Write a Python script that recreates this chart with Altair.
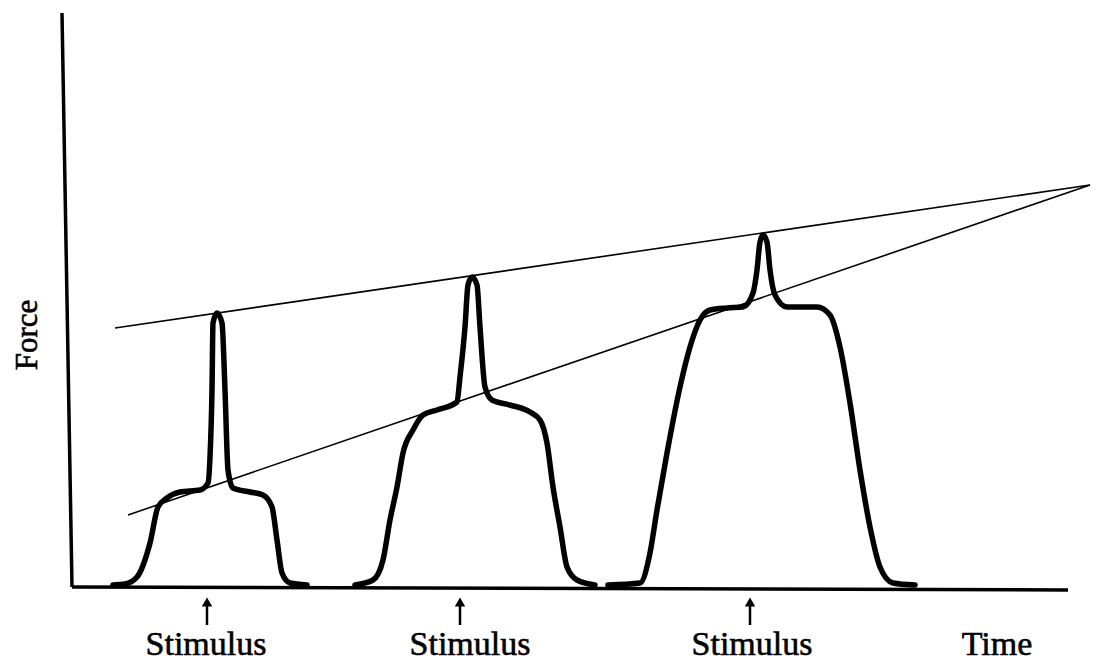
import altair as alt
import pandas as pd

# Twitch curves (time, force)
c1_time = [41, 53, 65, 78, 86, 95, 108, 128, 136, 138, 140, 141, 145, 150, 153, 156, 161, 178, 191, 200, 205, 210, 218, 235]
c1_force = [0, 1, 8, 42, 78, 87, 93, 95, 102, 128, 195, 262, 272, 262, 195, 115, 97, 93, 90, 78, 45, 12, 2, 0]

c2_time = [283, 301, 311, 318, 325, 331, 341, 351, 365, 385, 388, 393, 396, 400, 405, 408, 413, 420, 438, 458, 468, 475, 481, 488, 495, 505, 523]
c2_force = [0, 5, 25, 65, 98, 132, 155, 170, 175, 183, 208, 258, 300, 308, 300, 258, 198, 185, 180, 173, 165, 142, 98, 58, 18, 5, 0]

c3_time = [536, 568, 578, 585, 595, 608, 618, 628, 638, 655, 671, 681, 685, 688, 691, 695, 698, 703, 715, 745, 758, 768, 778, 788, 798, 808, 821, 843]
c3_force = [0, 2, 32, 75, 132, 198, 238, 265, 275, 277, 278, 292, 315, 343, 350, 343, 315, 290, 278, 278, 270, 238, 182, 115, 58, 18, 2, 0]

# Converging straight lines
upper_time = [43, 1018]
upper_force = [257, 400]
lower_time = [56, 1018]
lower_force = [70, 400]

# Axes lines
yaxis_time = [-10, 0]
yaxis_force = [572, -2]
xaxis_time = [0, 996]
xaxis_force = [-2, -5]

# Stimulus markers and labels
arrow_time = [135, 388, 678]
label_time = [134, 398, 680]
label_text = ["Stimulus", "Stimulus", "Stimulus"]

X = alt.Scale(domain=[-64, 1025], nice=False, zero=False)
Y = alt.Scale(domain=[-77, 577], nice=False, zero=False)

curves = pd.DataFrame({
    "time": c1_time + c2_time + c3_time,
    "force": c1_force + c2_force + c3_force,
    "curve": ["c1"] * len(c1_time) + ["c2"] * len(c2_time) + ["c3"] * len(c3_time),
})
straight = pd.DataFrame({
    "time": upper_time + lower_time,
    "force": upper_force + lower_force,
    "line": ["upper", "upper", "lower", "lower"],
})
axes = pd.DataFrame({
    "time": yaxis_time + xaxis_time,
    "force": yaxis_force + xaxis_force,
    "line": ["y", "y", "x", "x"],
})
arrows = pd.DataFrame({"time": arrow_time, "top": [-17] * 3, "bottom": [-40] * 3})
labels = pd.DataFrame({"time": label_time, "force": [-70] * 3, "text": label_text})
extra = pd.DataFrame({
    "time": [925, -44],
    "force": [-70, 250],
    "text": ["Time", "Force"],
})

xe = lambda: alt.X("time:Q", scale=X, axis=None)
ye = lambda: alt.Y("force:Q", scale=Y, axis=None)

curve_layer = alt.Chart(curves).mark_line(
    color="black", strokeWidth=5.5, interpolate="monotone", strokeJoin="round", strokeCap="round"
).encode(x=xe(), y=ye(), detail="curve:N", order="time:Q")

straight_layer = alt.Chart(straight).mark_line(color="black", strokeWidth=1.6).encode(
    x=xe(), y=ye(), detail="line:N"
)

axes_layer = alt.Chart(axes).mark_line(color="black", strokeWidth=3.5).encode(
    x=xe(), y=ye(), detail="line:N"
)

arrow_stem = alt.Chart(arrows).mark_rule(color="black", strokeWidth=2.5).encode(
    x=xe(), y=alt.Y("top:Q", scale=Y, axis=None), y2="bottom:Q"
)
arrow_head = alt.Chart(arrows).mark_point(
    shape="triangle-up", filled=True, color="black", size=110, opacity=1
).encode(x=xe(), y=alt.Y("top:Q", scale=Y, axis=None))

text_style = dict(font="Liberation Serif", color="black", stroke="black", strokeWidth=0.6)

label_layer = alt.Chart(labels).mark_text(
    fontSize=34, baseline="alphabetic", align="center", **text_style
).encode(x=xe(), y=ye(), text="text:N")

time_layer = alt.Chart(extra.iloc[[0]]).mark_text(
    fontSize=34, baseline="alphabetic", align="center", **text_style
).encode(x=xe(), y=ye(), text="text:N")

force_layer = alt.Chart(extra.iloc[[1]]).mark_text(
    fontSize=31, baseline="middle", align="center", angle=270, **text_style
).encode(x=xe(), y=ye(), text="text:N")

chart = alt.layer(
    axes_layer, straight_layer, curve_layer, arrow_stem, arrow_head, label_layer, time_layer, force_layer
).properties(
    width=1089, height=654, padding=0,
    autosize=alt.AutoSizeParams(type="none"),
    background="white",
).configure_view(strokeWidth=0)

chart.save("out.html", embed_options={"renderer": "svg", "actions": False})
